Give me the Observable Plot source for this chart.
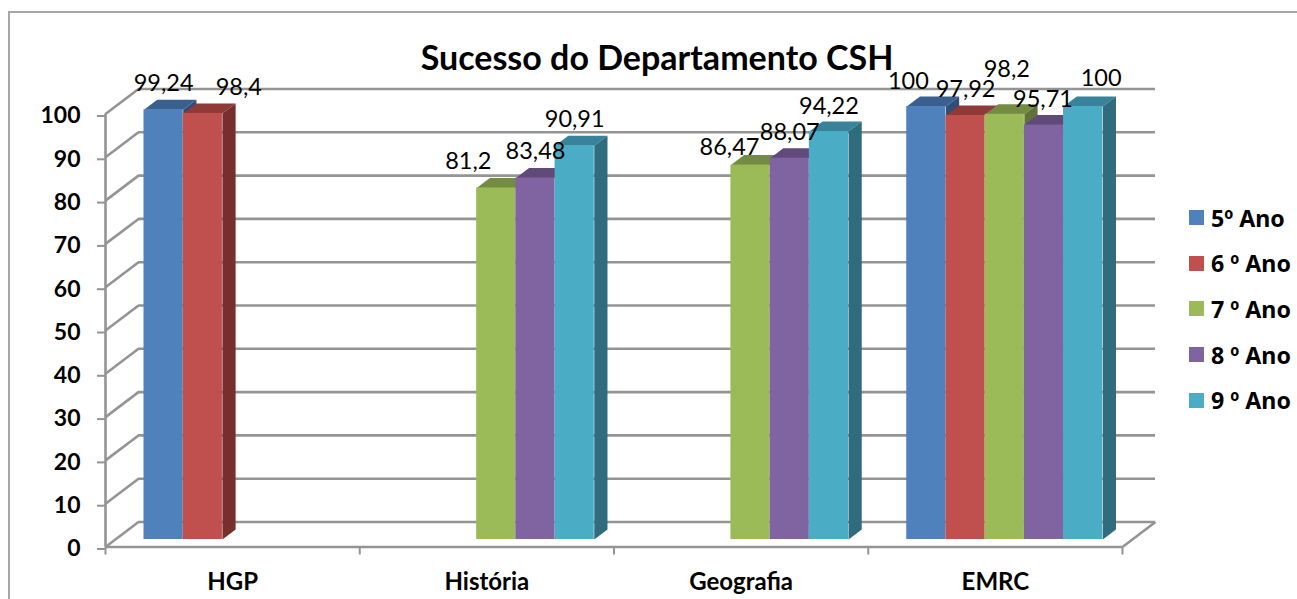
<!DOCTYPE html>
<html lang="pt">
<head>
<meta charset="utf-8">
<script src="https://cdn.jsdelivr.net/npm/d3@7"></script>
<script src="https://cdn.jsdelivr.net/npm/@observablehq/plot@0.6"></script>
<style>
  html, body { margin: 0; padding: 0; background: #fff; width: 1297px; height: 599px; overflow: hidden; }
  #wrap { position: relative; width: 1297px; height: 599px; overflow: hidden; font-family: Lato, sans-serif; color: #000; }
  #frame { position: absolute; left: 8px; top: 11px; width: 1400px; height: 640px; border: 2px solid #a6a6a6; box-sizing: border-box; }
  #title { position: absolute; left: 0; width: 1314px; top: 37px; text-align: center; font-weight: 700; font-size: 34px; line-height: 40px; z-index: 2; }
  #legend { position: absolute; left: 1189px; top: 195px; font-family: "Noto Sans", sans-serif; font-weight: 700; font-size: 23.2px; z-index: 2; white-space: nowrap; }
  #legend .row { display: flex; align-items: center; height: 45.6px; }
  #legend .sw { width: 15px; height: 15px; margin-right: 7px; }
  svg { position: absolute; left: 0; top: 0; z-index: 1; background: transparent; }
</style>
</head>
<body>
<div id="wrap">
  <div id="frame"></div>
  <div id="title"></div>
  <div id="legend"></div>
</div>
<script>
const chartTitle = "Sucesso do Departamento CSH";
const categories = ["HGP", "História", "Geografia", "EMRC"];
const series = ["5º Ano", "6 º Ano", "7 º Ano", "8 º Ano", "9 º Ano"];
const yTicks = [0, 10, 20, 30, 40, 50, 60, 70, 80, 90, 100];
// values per series, one entry per category (null = no bar)
const ano5 = [99.24, null, null, 100];
const ano6 = [98.4, null, null, 97.92];
const ano7 = [null, 81.2, 86.47, 98.2];
const ano8 = [null, 83.48, 88.07, 95.71];
const ano9 = [null, 90.91, 94.22, 100];
const valuesBySeries = [ano5, ano6, ano7, ano8, ano9];

const frontColors = ["#4f81bd", "#c0504d", "#9bbb59", "#8064a2", "#4bacc6"];
const topColors   = ["#3a6090", "#8f3a38", "#748c42", "#5f4a79", "#38829a"];
const sideColors  = ["#2f4f76", "#772e2c", "#5f7336", "#4d3c63", "#2f6c7e"];
const gridColor = "#949494";

// hand-placed data label nudges (px), as in the source chart: [series][category]
const labelNudges = [
  [[0, -26], null, null, [-18, -25]],
  [[36, -26], null, null, [0, -26]],
  [null, [-28, -26], [-21, -18], [2, -45]],
  [null, [0, -27], [0, -26], [-1, -26]],
  [null, [0, -26], [0, -25], [18, -28]]
];
const fmt = v => String(v).replace(".", ",");

// oblique projection of the 3D chart onto the 2D scales
const barWidth = 0.1542;     // of one category
const depthX = 0.1298;       // category units at full depth
const depthY = 5.77;         // value units at full depth
const barNear = 0.3, barFar = 0.7;
const px = (c, d) => c + d * depthX;
const py = (v, d) => v + d * depthY;

const bars = [];
valuesBySeries.forEach((vals, s) => vals.forEach((v, c) => {
  if (v == null) return;
  const left = c + 0.498 + (s - series.length / 2) * barWidth;
  bars.push({s, c, v, left, right: left + barWidth, serie: series[s], nudge: labelNudges[s][c]});
}));

const topFace = b => [[b.left, barNear], [b.right, barNear], [b.right, barFar], [b.left, barFar]]
  .map(([x, d]) => ({id: `t${b.s}${b.c}`, x: px(x, d), y: py(b.v, d)}));
const sideFace = b => [[0, barNear], [b.v, barNear], [b.v, barFar], [0, barFar]]
  .map(([v, d]) => ({id: `s${b.s}${b.c}`, x: px(b.right, d), y: py(v, d)}));

const depthMarks = series.flatMap((_, s) => {
  const own = bars.filter(b => b.s === s);
  return [
    Plot.line(own.flatMap(topFace), {x: "x", y: "y", z: "id", fill: topColors[s], stroke: "none"}),
    Plot.line(own.flatMap(sideFace), {x: "x", y: "y", z: "id", fill: sideColors[s], stroke: "none"})
  ];
});

const n = categories.length;
const labelMarks = bars.map(b => Plot.text([b], {
  x: d => px((d.left + d.right) / 2, barNear),
  y: d => py(d.v, barNear),
  text: d => fmt(d.v),
  dx: b.nudge[0], dy: b.nudge[1],
  fontSize: 23.5, fill: "#000", fontFamily: "Lato, sans-serif"
}));

const chart = Plot.plot({
  width: 1297, height: 599,
  marginLeft: 105, marginRight: 175, marginTop: 113.5, marginBottom: 52.5,
  style: {fontFamily: "Lato, sans-serif", background: "transparent", overflow: "visible"},
  x: {type: "linear", domain: [0, n], range: [105, 1122]},
  y: {type: "linear", domain: [0, 100], range: [546.5, 113.5]},
  color: {type: "ordinal", domain: series, range: frontColors},
  marks: [
    // back wall gridlines
    Plot.ruleY(yTicks, {x1: px(0, 1), x2: px(n, 1), y: v => py(v, 1), stroke: gridColor, strokeWidth: 2.6}),
    // side wall diagonals
    Plot.link(yTicks, {x1: px(0, 0), x2: px(0, 1), y1: v => v, y2: v => py(v, 1), stroke: gridColor, strokeWidth: 2.6}),
    // floor: right diagonal and front edge
    Plot.link([0], {x1: px(n, 0), x2: px(n, 1), y1: 0, y2: py(0, 1), stroke: gridColor, strokeWidth: 2.6}),
    Plot.ruleY([0], {x1: 0, x2: n, stroke: gridColor, strokeWidth: 2.6}),
    Plot.ruleX([0], {y1: 0, y2: 100, stroke: gridColor, strokeWidth: 2.6}),
    ...depthMarks,
    Plot.rect(bars, {x1: d => px(d.left, barNear), x2: d => px(d.right, barNear), y1: d => py(0, barNear), y2: d => py(d.v, barNear), fill: "serie"}),
    Plot.axisY({ticks: yTicks, tickSize: 8, tickPadding: 17, textStroke: "none", fontSize: 23, fontWeight: 700, stroke: gridColor, strokeWidth: 2, fill: "#000", label: null, dy: 2}),
    Plot.axisX({ticks: d3.range(0, n + 1), tickSize: 8, tickFormat: () => "", stroke: gridColor, strokeWidth: 2, label: null}),
    Plot.axisX({ticks: categories.map((_, i) => i + 0.5), tickSize: 0, tickPadding: 26, tickFormat: v => categories[Math.floor(v)], fontSize: 24, fontWeight: 700, fill: "#000", label: null}),
    ...labelMarks
  ]
});
document.getElementById("wrap").appendChild(chart);

document.getElementById("title").textContent = chartTitle;
const legend = document.getElementById("legend");
series.forEach((name, i) => {
  const row = document.createElement("div");
  row.className = "row";
  const sw = document.createElement("div");
  sw.className = "sw";
  sw.style.background = frontColors[i];
  const t = document.createElement("span");
  t.textContent = name;
  row.append(sw, t);
  legend.appendChild(row);
});
</script>
</body>
</html>
